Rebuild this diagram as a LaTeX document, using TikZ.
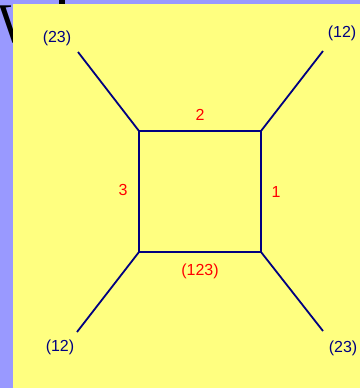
\documentclass[tikz,border=0pt]{standalone}
\usepackage{fontspec}
\setmainfont{Liberation Sans}
\newfontfamily\titlefont{Liberation Serif}
\usepackage{xcolor}
\usetikzlibrary{positioning}

\definecolor{slidebg}{RGB}{153,153,255}
\definecolor{panel}{RGB}{255,255,128}
\definecolor{edgeblue}{RGB}{0,0,128}
\definecolor{labred}{RGB}{255,0,0}

\begin{document}
\begin{tikzpicture}[
  x=1pt, y=-1pt,
  font=\fontsize{16}{18}\selectfont,
  leg/.style={draw=edgeblue, line width=1.8pt},
  side/.style={draw=edgeblue, line width=1.8pt},
  ext/.style={text=edgeblue, inner sep=1pt},
  lab/.style={text=labred, inner sep=1pt}
]
\useasboundingbox (0,0) rectangle (360,388);

% ---------- slide background and covered title ----------
\fill[slidebg] (0,0) rectangle (360,388);
\node[anchor=north west, inner sep=0pt, font=\titlefont\fontsize{56}{56}\selectfont] (title) at (-3,6) {W};
\fill[black] (59,0) rectangle (65,5);
\fill[panel] (13,4) rectangle (360,388);

% ---------- square corners ----------
\coordinate (tl) at (139,131);
\coordinate (tr) at (261,131);
\coordinate (br) at (261,252);
\coordinate (bl) at (139,252);

% ---------- outer ends ----------
\coordinate (etl) at (78,52);
\coordinate (etr) at (323,51);
\coordinate (ebl) at (77,332);
\coordinate (ebr) at (323,331);

% ---------- edges ----------
\draw[side] (tl) -- (tr) -- (br) -- (bl) -- cycle;
\draw[leg] (tl) -- (etl);
\draw[leg] (tr) -- (etr);
\draw[leg] (bl) -- (ebl);
\draw[leg] (br) -- (ebr);

% ---------- external labels ----------
\node[ext] (ltl) at (57,38) {(23)};
\node[ext] (ltr) at (342,33) {(12)};
\node[ext] (lbl) at (60,347) {(12)};
\node[ext] (lbr) at (343,348) {(23)};

% ---------- internal labels ----------
\node[lab] (top) at (200,115) {2};
\node[lab] (left) at (123,190) {3};
\node[lab] (right) at (276,192) {1};
\node[lab] (bottom) at (200,271) {(123)};

\end{tikzpicture}
\end{document}
